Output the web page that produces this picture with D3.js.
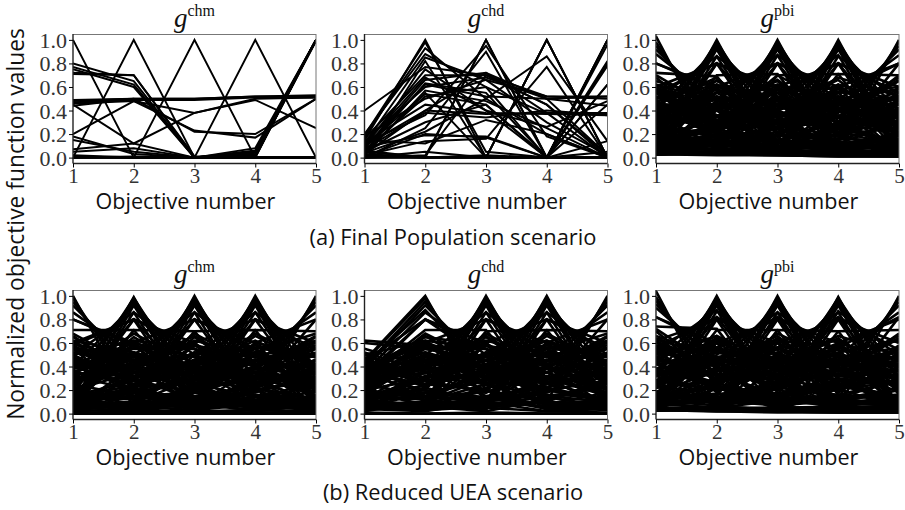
<!DOCTYPE html>
<html>
<head>
<meta charset="utf-8">
<script src="https://cdn.jsdelivr.net/npm/d3@7"></script>
<style>
  body { margin: 0; background: #fff; }
  svg { display: block; }
</style>
</head>
<body>
<svg id="chart" width="905" height="510"></svg>
<script>
// objectives on the x axis and y tick values
const objectives = [1, 2, 3, 4, 5];
const yTicks = [0, 0.2, 0.4, 0.6, 0.8, 1.0];
const panelTitles = ["chm", "chd", "pbi"];
const captions = ["(a) Final Population scenario", "(b) Reduced UEA scenario"];

// (a) final population, each row = one solution (normalized f1..f5)
const chmFinal = [
  [1, 0, 0, 0, 0], [0, 1, 0, 0, 0], [0, 0, 1, 0, 0], [0, 0, 0, 1, 0], [0, 0, 0, 0, 1],
  [0, 0, 0, 0, 0], [.01, 0, 0, 0, 0], [0, .01, 0, 0, 0],
  [.80, .65, 0, .05, 1], [.77, .62, 0, .04, 1], [.75, .60, 0, .06, 1],
  [.71, .70, 0, 0, 1], [.72, .70, .01, .01, .99],
  [.48, .50, .50, .52, .52], [.47, .49, .49, .51, .51], [.49, .50, .50, .52, .53],
  [.45, .12, .38, .49, .25], [.44, .50, .22, .20, .50], [.46, .48, .38, .50, .51],
  [.20, .48, .23, .17, .50], [.18, .03, 0, .08, 1], [.15, .05, 0, .02, 1],
  [.07, .12, 0, .03, 1], [.05, .08, 0, .01, 1], [.02, 0, 0, 0, 0], [0, 0, 0, .05, 1]
];

const chdFinal = [
  [.15, 1, 0, 0, 0], [.02, 0, 1, 0, 0], [.05, 0, 0, 1, 0], [.03, 0, 0, 0, 1],
  [0, 0, 0, 0, 0], [0, .01, 1, 0, 0], [0, 0, 0, 1, 0], [0, 0, 0, 0, 1],
  [.40, .77, .70, .45, .02], [.18, .93, .50, .20, 0], [.20, .88, .60, 0, .45],
  [.12, .85, .66, .30, .02], [.10, .75, .40, 0, .80], [.16, .70, .70, .52, .52],
  [.08, .66, .72, .38, 0], [.05, .63, .55, 0, .96], [.14, .60, .68, .50, .44],
  [.02, .57, .48, .25, 0], [.10, .54, .45, 0, .78], [.06, .52, .60, .37, .36],
  [.18, .50, .66, .52, .50], [.03, .40, .37, .38, .38], [.07, .38, .34, .40, .36],
  [.12, .36, .95, .18, 0], [0, .25, .90, 0, .62], [.04, .22, .50, .86, .14],
  [.09, .19, .18, 0, .05], [.02, .14, .16, .77, 0], [.15, .12, .32, .20, 0],
  [0, .02, .70, .45, 0], [.06, 0, .02, 0, .82], [.08, .62, .52, .50, .52],
  [.11, .68, .40, .26, .48], [.03, .55, 0, 0, .62], [.13, .45, .38, .37, .37],
  [.01, .20, .17, 0, .14], [.05, .30, .45, 0, 1], [0, .05, 0, 1, 0], [.02, .82, 0, 0, 0],
  [.19, .98, .05, 0, 0], [.10, .40, .72, .50, .02]
];

const pbiFinal = [
  [1.03, .05, .03, .04, .02], [.98, .20, .05, .04, .03], [.95, .30, .05, .04, .03],
  [.92, .40, .05, .03, .04], [.88, .47, .06, .03, .05], [.80, .60, .04, .05, .03],
  [.72, .69, .05, .04, .04], [.60, .80, .05, .04, .05], [.50, .86, .06, .05, .03],
  [.40, .92, .04, .05, .03], [.30, .95, .04, .06, .05], [.20, .98, .05, .03, .04],
  [.05, 1.0, .05, .04, .04], [.04, .98, .20, .05, .03], [.04, .94, .33, .05, .03],
  [.05, .92, .40, .04, .04], [.05, .86, .50, .04, .05], [.03, .80, .60, .05, .03],
  [.04, .70, .71, .06, .03], [.04, .60, .80, .03, .05], [.03, .48, .87, .05, .04],
  [.05, .40, .92, .04, .03], [.05, .30, .95, .04, .05], [.03, .20, .98, .05, .04],
  [.04, .05, 1.0, .05, .03], [.04, .05, .98, .20, .03], [.03, .04, .95, .31, .04],
  [.03, .04, .92, .40, .05], [.05, .05, .87, .49, .03], [.05, .03, .80, .60, .04],
  [.04, .03, .70, .71, .05], [.04, .05, .60, .80, .03], [.05, .04, .49, .87, .03],
  [.03, .04, .40, .92, .05], [.03, .05, .30, .95, .04], [.05, .03, .20, .98, .04],
  [.04, .05, .04, 1.0, .05], [.04, .03, .05, .98, .20], [.05, .04, .05, .95, .31],
  [.05, .04, .03, .92, .40], [.03, .05, .04, .86, .50], [.03, .05, .04, .80, .60],
  [.04, .03, .05, .71, .70], [.04, .03, .05, .60, .80], [.05, .04, .03, .49, .87],
  [.05, .04, .03, .40, .92], [.04, .05, .04, .30, .95], [.03, .05, .04, .20, .98],
  [.03, .04, .05, .04, 1.0],
  [.80, .58, .15, .10, .08], [.15, .80, .55, .12, .10], [.10, .18, .80, .55, .12],
  [.08, .12, .15, .80, .55], [.58, .12, .10, .15, .80], [.55, .80, .20, .08, .10],
  [.12, .55, .80, .18, .10], [.10, .12, .55, .80, .18], [.18, .10, .12, .55, .80],
  [.62, .48, .35, .40, .30], [.55, .20, .60, .35, .40], [.40, .62, .25, .50, .38],
  [.30, .45, .65, .20, .48], [.48, .30, .42, .66, .25], [.35, .55, .30, .45, .52],
  [.22, .40, .55, .60, .35], [.68, .25, .45, .30, .38], [.50, .65, .40, .22, .30],
  [.15, .35, .48, .40, .68], [.42, .18, .35, .55, .60], [.58, .42, .18, .48, .45],
  [.28, .60, .52, .15, .50], [.36, .28, .62, .50, .20], [.65, .50, .28, .18, .42],
  [.20, .25, .40, .68, .52], [.45, .68, .20, .40, .35], [.52, .35, .66, .28, .22],
  [.18, .52, .30, .35, .65], [.60, .15, .50, .45, .28], [.33, .42, .18, .62, .48],
  [.25, .62, .45, .52, .18], [.70, .40, .22, .35, .30], [.12, .28, .70, .42, .38],
  [.40, .50, .55, .30, .25], [.55, .30, .25, .60, .35], [.26, .18, .45, .30, .70],
  [.48, .58, .35, .42, .15], [.38, .22, .58, .18, .55], [.62, .35, .12, .52, .40],
  [.20, .66, .38, .25, .45], [.44, .40, .30, .50, .58], [.15, .48, .62, .35, .28],
  [.56, .26, .40, .62, .20], [.32, .50, .48, .20, .60], [.45, .45, .45, .45, .45],
  [.52, .40, .58, .30, .36], [.34, .58, .36, .52, .30], [.46, .30, .52, .40, .56],
  [.28, .50, .40, .58, .42], [.60, .36, .28, .44, .50], [.40, .24, .46, .56, .48],
  [.56, .44, .50, .26, .34], [.24, .56, .58, .40, .30], [.36, .46, .24, .38, .66],
  [.50, .62, .30, .46, .26], [.30, .34, .50, .30, .52], [.44, .28, .36, .46, .38],
  [.20, .44, .30, .50, .34], [.58, .32, .44, .24, .46], [.38, .52, .38, .34, .22],
  [.14, .24, .36, .26, .42], [.42, .36, .26, .40, .30], [.26, .40, .34, .22, .36],
  [.48, .20, .30, .36, .24], [.32, .30, .42, .48, .18],
  [.25, .10, .20, .15, .30], [.18, .22, .08, .25, .12], [.10, .15, .25, .10, .20],
  [.30, .12, .18, .28, .08], [.08, .28, .12, .20, .25], [.22, .08, .30, .12, .18],
  [.12, .20, .15, .30, .10], [.35, .25, .10, .08, .22], [.06, .12, .22, .18, .35],
  [.28, .35, .15, .22, .10], [.16, .06, .12, .35, .28], [.20, .30, .32, .10, .15],
  [.10, .25, .05, .12, .30], [.38, .08, .25, .05, .15],
  [.10, .06, .14, .08, .12], [.14, .12, .06, .10, .08], [.06, .10, .08, .14, .06],
  [.18, .14, .10, .06, .10], [.08, .04, .12, .16, .14], [.12, .18, .14, .04, .06],
  [.05, .08, .05, .06, .10], [.20, .05, .08, .12, .04], [.07, .16, .04, .08, .16],
  [.03, .02, .02, .01, .01], [.04, .03, .02, .02, .01], [.03, .03, .02, .01, .01]
];

// (b) reduced UEA
const chmReduced = [
  [1.0, .05, .10, .08, .12], [.98, .20, .06, .10, .04], [.95, .30, .12, .05, .08],
  [.92, .40, .08, .03, .10], [.86, .50, .08, .10, .05], [.80, .60, .05, .08, .02],
  [.71, .71, .10, .06, .09], [.60, .80, .04, .10, .06], [.50, .86, .07, .12, .05],
  [.40, .92, .10, .02, .08], [.30, .95, .10, .05, .10], [.20, .98, .03, .08, .05],
  [.06, .99, .08, .10, .04], [.08, .98, .20, .04, .10], [.10, .95, .30, .06, .08],
  [.03, .92, .40, .08, .05], [.08, .86, .50, .10, .06], [.10, .80, .60, .02, .08],
  [.05, .71, .70, .08, .10], [.06, .60, .80, .10, .03], [.12, .50, .86, .05, .07],
  [.04, .40, .92, .08, .10], [.07, .30, .95, .10, .05], [.10, .20, .98, .04, .08],
  [.10, .06, 1.0, .07, .09], [.06, .08, .98, .20, .03], [.05, .10, .95, .30, .08],
  [.10, .04, .92, .40, .06], [.09, .07, .86, .50, .05], [.03, .10, .80, .60, .08],
  [.06, .10, .70, .71, .08], [.08, .03, .60, .80, .10], [.08, .05, .50, .86, .10],
  [.05, .08, .40, .92, .04], [.10, .09, .30, .95, .06], [.04, .06, .20, .98, .10],
  [.07, .08, .06, 1.0, .10], [.10, .04, .08, .98, .20], [.05, .10, .08, .95, .30],
  [.08, .06, .03, .92, .40], [.10, .06, .09, .86, .50], [.04, .10, .06, .80, .60],
  [.08, .09, .05, .71, .70], [.10, .04, .08, .60, .80], [.06, .07, .10, .50, .86],
  [.03, .08, .06, .40, .92], [.09, .05, .07, .30, .95], [.06, .10, .04, .20, .98],
  [.10, .08, .06, .08, 1.0],
  [.80, .58, .20, .15, .12], [.18, .80, .55, .14, .10], [.12, .20, .80, .55, .15],
  [.10, .15, .18, .80, .55], [.55, .15, .12, .20, .80], [.58, .80, .22, .10, .14],
  [.60, .45, .30, .38, .42], [.42, .60, .48, .25, .35], [.30, .38, .62, .50, .28],
  [.50, .25, .40, .62, .38], [.35, .52, .22, .45, .60], [.65, .35, .50, .20, .30],
  [.22, .65, .35, .55, .25], [.45, .20, .65, .30, .50], [.28, .48, .30, .66, .40],
  [.55, .30, .45, .35, .65], [.40, .55, .55, .40, .22], [.18, .42, .50, .58, .48],
  [.68, .40, .20, .45, .35], [.33, .68, .42, .18, .45], [.48, .28, .68, .40, .20],
  [.25, .50, .35, .68, .42], [.58, .22, .52, .42, .62], [.38, .60, .25, .50, .55],
  [.52, .45, .60, .25, .38], [.20, .35, .45, .52, .68], [.62, .52, .38, .30, .18],
  [.44, .38, .20, .60, .50], [.15, .58, .40, .35, .55], [.36, .25, .58, .48, .30],
  [.56, .48, .32, .55, .25], [.26, .62, .55, .22, .40], [.48, .15, .35, .45, .58],
  [.32, .42, .66, .35, .45], [.66, .30, .42, .52, .20], [.40, .50, .18, .40, .62],
  [.52, .40, .58, .30, .36], [.34, .58, .36, .52, .30], [.46, .30, .52, .40, .56],
  [.28, .50, .40, .58, .42], [.60, .36, .28, .44, .50], [.40, .24, .46, .56, .48],
  [.56, .44, .50, .26, .34], [.24, .56, .58, .40, .30], [.36, .46, .24, .38, .66],
  [.50, .62, .30, .46, .26], [.30, .34, .50, .30, .52], [.44, .28, .36, .46, .38],
  [.20, .44, .30, .50, .34], [.58, .32, .44, .24, .46], [.38, .52, .38, .34, .22],
  [.25, .15, .30, .20, .28], [.15, .28, .18, .32, .15], [.32, .20, .12, .25, .35],
  [.10, .32, .25, .15, .22], [.20, .12, .35, .28, .10], [.35, .25, .20, .10, .30],
  [.08, .18, .28, .35, .18], [.28, .35, .15, .22, .12], [.12, .22, .10, .18, .32],
  [.18, .08, .22, .30, .25], [.02, .25, .05, .28, .04], [.22, .03, .26, .04, .30],
  [.15, .05, .18, .06, .20], [.05, .20, .04, .22, .06], [.14, .24, .36, .26, .42],
  [.42, .36, .26, .40, .30], [.26, .40, .34, .22, .36], [.48, .20, .30, .36, .24],
  [.10, .06, .14, .08, .12], [.14, .12, .06, .10, .08], [.06, .10, .08, .14, .06],
  [.18, .14, .10, .06, .10], [.08, .04, .12, .16, .14], [.12, .18, .14, .04, .06],
  [0, 0, 0, 0, 0], [.03, .02, .02, .03, .02], [.01, .01, .01, .01, .01], [.02, .04, .01, .03, .02]
];

const chdReduced = [
  [.45, 1.0, .08, .10, .05], [.44, .98, .20, .04, .08], [.40, .95, .30, .08, .10],
  [.38, .92, .40, .03, .06], [.35, .86, .50, .05, .08], [.33, .80, .60, .08, .04],
  [.30, .71, .71, .10, .06], [.28, .60, .80, .04, .09], [.25, .50, .86, .08, .10],
  [.22, .40, .92, .06, .03], [.20, .30, .95, .06, .05], [.15, .20, .98, .10, .06],
  [.10, .08, 1.0, .10, .08], [.06, .04, .98, .20, .10], [.08, .10, .95, .30, .05],
  [.04, .08, .92, .40, .06], [.12, .06, .86, .50, .10], [.07, .03, .80, .60, .08],
  [.05, .09, .70, .71, .08], [.10, .04, .60, .80, .05], [.10, .05, .50, .86, .06],
  [.03, .10, .40, .92, .08], [.06, .10, .30, .95, .09], [.08, .06, .20, .98, .04],
  [.09, .07, .08, 1.0, .05], [.05, .03, .06, .98, .20], [.05, .09, .10, .95, .30],
  [.10, .08, .04, .92, .40], [.10, .06, .05, .86, .50], [.06, .10, .03, .80, .60],
  [.07, .10, .08, .71, .70], [.04, .05, .10, .60, .80], [.04, .08, .06, .50, .86],
  [.09, .04, .08, .40, .92], [.08, .05, .09, .30, .95], [.03, .10, .05, .20, .98],
  [.06, .07, .05, .10, 1.0],
  [.62, .58, .30, .40, .20], [.60, .55, .45, .25, .35], [.42, .88, .35, .20, .12],
  [.44, .80, .45, .12, .25], [.38, .65, .58, .30, .15], [.30, .80, .55, .15, .10],
  [.12, .20, .80, .55, .15], [.10, .15, .18, .80, .55], [.25, .15, .12, .20, .80],
  [.40, .60, .45, .38, .42], [.30, .45, .62, .50, .28], [.25, .38, .40, .62, .45],
  [.35, .52, .25, .45, .60], [.18, .66, .35, .55, .25], [.45, .25, .65, .30, .50],
  [.22, .48, .30, .66, .40], [.50, .30, .45, .35, .65], [.32, .55, .55, .40, .22],
  [.12, .42, .50, .58, .48], [.28, .68, .42, .18, .45], [.40, .28, .68, .40, .20],
  [.15, .50, .35, .68, .42], [.48, .22, .52, .42, .62], [.36, .60, .25, .50, .55],
  [.20, .45, .60, .25, .38], [.10, .35, .45, .52, .68], [.42, .52, .38, .30, .18],
  [.30, .38, .20, .60, .50], [.26, .58, .40, .35, .55], [.34, .25, .58, .48, .30],
  [.16, .48, .32, .55, .25], [.38, .62, .55, .22, .40], [.44, .15, .35, .45, .58],
  [.24, .42, .66, .35, .45], [.08, .30, .42, .52, .20], [.32, .50, .18, .40, .62],
  [.20, .58, .48, .62, .33], [.55, .40, .50, .30, .45], [.50, .62, .30, .55, .35],
  [.36, .40, .58, .30, .36], [.28, .58, .36, .52, .30], [.46, .30, .52, .40, .56],
  [.18, .50, .40, .58, .42], [.52, .36, .28, .44, .50], [.34, .24, .46, .56, .48],
  [.40, .44, .50, .26, .34], [.14, .56, .58, .40, .30], [.26, .46, .24, .38, .66],
  [.30, .34, .50, .30, .52], [.44, .28, .36, .46, .38], [.20, .44, .30, .50, .34],
  [.25, .15, .30, .20, .28], [.15, .28, .18, .32, .15], [.32, .20, .12, .25, .35],
  [.10, .32, .25, .15, .22], [.20, .12, .35, .28, .10], [.35, .25, .20, .10, .30],
  [.05, .18, .28, .35, .18], [.28, .35, .15, .22, .12], [.12, .22, .10, .18, .32],
  [.18, .08, .22, .30, .25], [.22, .06, .02, .12, .28], [.40, .10, .25, .08, .18],
  [.14, .24, .36, .26, .42], [.42, .36, .26, .40, .30], [.26, .40, .34, .22, .36],
  [.10, .06, .14, .08, .12], [.14, .12, .06, .10, .08], [.06, .10, .08, .14, .06],
  [.18, .14, .10, .06, .10], [.08, .04, .12, .16, .14], [.12, .18, .14, .04, .06],
  [.02, .10, .05, .02, .04], [.04, .02, .10, .02, .01], [0, 0, 0, 0, 0], [.01, 0, .01, 0, 0]
];

const pbiReduced = [
  [1.04, .06, .04, .03, .02], [.99, .22, .04, .05, .03], [.96, .32, .05, .04, .03],
  [.93, .41, .03, .04, .05], [.90, .45, .04, .05, .04], [.82, .60, .05, .03, .04],
  [.74, .72, .06, .03, .05], [.62, .80, .04, .05, .03], [.52, .88, .05, .06, .03],
  [.42, .92, .03, .04, .05], [.32, .95, .04, .05, .04], [.21, .98, .05, .03, .04],
  [.06, 1.0, .05, .04, .03], [.05, .98, .21, .03, .04], [.05, .95, .32, .04, .04],
  [.04, .92, .41, .05, .03], [.04, .87, .49, .05, .03], [.03, .80, .60, .04, .05],
  [.05, .71, .71, .04, .05], [.04, .60, .80, .05, .03], [.04, .50, .86, .05, .03],
  [.05, .40, .92, .03, .04], [.03, .31, .95, .04, .04], [.04, .21, .98, .05, .03],
  [.05, .04, 1.0, .05, .03], [.04, .03, .98, .21, .05], [.04, .05, .95, .30, .04],
  [.05, .04, .92, .40, .03], [.03, .04, .86, .50, .05], [.04, .05, .80, .60, .03],
  [.05, .04, .71, .70, .03], [.03, .05, .60, .80, .04], [.04, .05, .50, .86, .04],
  [.05, .03, .40, .92, .04], [.03, .04, .31, .95, .05], [.04, .05, .21, .98, .03],
  [.05, .03, .04, .99, .04], [.03, .05, .04, .98, .21], [.04, .05, .04, .95, .31],
  [.05, .04, .03, .92, .40], [.03, .04, .05, .87, .49], [.04, .03, .05, .80, .60],
  [.05, .03, .04, .70, .71], [.03, .04, .05, .60, .80], [.04, .05, .03, .50, .86],
  [.05, .03, .04, .40, .92], [.03, .04, .05, .31, .95], [.04, .05, .03, .21, .98],
  [.04, .03, .04, .05, 1.0],
  [.82, .56, .14, .12, .08], [.16, .82, .54, .10, .12], [.12, .15, .82, .54, .10],
  [.10, .12, .16, .82, .54], [.56, .10, .12, .14, .82], [.56, .82, .18, .10, .08],
  [.10, .56, .82, .16, .12], [.12, .10, .56, .82, .16], [.16, .12, .10, .56, .82],
  [.64, .46, .38, .36, .32], [.52, .22, .62, .38, .36], [.38, .64, .28, .48, .40],
  [.32, .42, .66, .24, .46], [.46, .32, .40, .64, .28], [.36, .56, .32, .42, .54],
  [.24, .38, .56, .62, .32], [.70, .28, .42, .32, .36], [.48, .66, .42, .24, .28],
  [.18, .36, .46, .42, .66], [.44, .20, .36, .52, .62], [.60, .40, .20, .46, .48],
  [.26, .62, .50, .18, .52], [.38, .26, .64, .48, .22], [.66, .48, .30, .20, .40],
  [.22, .28, .42, .66, .50], [.46, .66, .22, .38, .36], [.54, .36, .64, .30, .24],
  [.16, .54, .28, .38, .64], [.62, .18, .48, .44, .30], [.34, .44, .20, .60, .46],
  [.28, .60, .46, .50, .20], [.72, .38, .24, .34, .32], [.14, .30, .68, .44, .36],
  [.42, .48, .56, .32, .26], [.56, .32, .26, .58, .36], [.28, .20, .46, .32, .68],
  [.50, .56, .36, .40, .18], [.36, .24, .56, .20, .56], [.64, .34, .14, .50, .42],
  [.22, .64, .36, .28, .46], [.46, .42, .32, .48, .56], [.18, .46, .60, .36, .30],
  [.58, .28, .38, .60, .22], [.34, .52, .46, .22, .58], [.44, .46, .44, .46, .44],
  [.54, .42, .56, .32, .38], [.32, .56, .38, .50, .28], [.48, .32, .50, .42, .54],
  [.26, .52, .42, .56, .40], [.62, .34, .30, .42, .52], [.42, .26, .44, .54, .46],
  [.58, .42, .52, .28, .32], [.22, .54, .56, .42, .32], [.38, .44, .26, .36, .64],
  [.52, .60, .32, .44, .28], [.28, .36, .48, .32, .50], [.46, .30, .34, .44, .40],
  [.26, .12, .22, .16, .28], [.16, .24, .10, .26, .14], [.12, .16, .26, .12, .22],
  [.32, .14, .16, .26, .10], [.10, .26, .14, .22, .26], [.24, .10, .28, .14, .16],
  [.14, .22, .16, .28, .12], [.36, .26, .12, .10, .20], [.08, .14, .24, .20, .34],
  [.28, .34, .16, .24, .12], [.18, .08, .14, .34, .26], [.22, .28, .30, .12, .16],
  [.12, .24, .07, .14, .28], [.36, .10, .24, .07, .16], [.08, .05, .18, .10, .06],
  [.11, .07, .13, .09, .11], [.15, .11, .07, .11, .07], [.07, .11, .09, .13, .07],
  [.19, .13, .11, .07, .09], [.09, .05, .11, .15, .13], [.13, .17, .13, .05, .07],
  [.03, .02, .02, .01, .01], [.04, .02, .02, .01, .01], [.03, .02, .01, .01, .01]
];

const panels = [
  [chmFinal, chdFinal, pbiFinal],
  [chmReduced, chdReduced, pbiReduced]
];

// layout
const panelLeft = [73, 364.5, 656];
const panelTop = [34, 290];
const pw = 243, ph = 129.5;
const serif = "'Liberation Serif', 'DejaVu Serif', serif";
const sans = "'Open Sans', 'DejaVu Sans', sans-serif";

const svg = d3.select("#chart");

// scale a text's font size so that it spans the wanted width
function fitText(sel, width) {
  const len = sel.node().getComputedTextLength();
  if (len > 0) sel.attr("font-size", +sel.attr("font-size") * width / len);
}

const x = d3.scaleLinear().domain([1, 5]).range([0, pw]);
const y = d3.scaleLinear().domain([-0.05, 1.05]).range([ph, 0]);
const line = d3.line().x((d, i) => x(objectives[i])).y(d => y(d));

svg.append("clipPath").attr("id", "clip")
  .append("rect").attr("width", pw).attr("height", ph);

let captionSize = 21;

panels.forEach((row, r) => {
  row.forEach((data, c) => {
    const g = svg.append("g")
      .attr("transform", "translate(" + panelLeft[c] + "," + panelTop[r] + ")");

    const dense = data.length > 60;
    g.append("g").attr("clip-path", "url(#clip)")
      .selectAll("path")
      .data(data)
      .enter().append("path")
      .attr("d", line)
      .attr("fill", "none")
      .attr("stroke", "#000")
      .attr("stroke-width", dense ? 2.6 : 2)
      .attr("stroke-linejoin", "miter");

    // frame (top/right light, left/bottom dark)
    g.append("line").attr("x1", 0).attr("x2", pw).attr("y1", 0.5).attr("y2", 0.5)
      .attr("stroke", "#777").attr("stroke-width", 1);
    g.append("line").attr("x1", pw).attr("x2", pw).attr("y1", 0).attr("y2", ph)
      .attr("stroke", "#777").attr("stroke-width", 1);
    g.append("line").attr("x1", 0).attr("x2", 0).attr("y1", 0).attr("y2", ph)
      .attr("stroke", "#222").attr("stroke-width", 1.4);
    g.append("line").attr("x1", 0).attr("x2", pw).attr("y1", ph).attr("y2", ph)
      .attr("stroke", "#222").attr("stroke-width", 1.6);

    // y axis
    const ya = g.append("g")
      .call(d3.axisLeft(y).tickValues(yTicks).tickFormat(d3.format(".1f")).tickSize(4).tickPadding(2));
    ya.select(".domain").remove();
    ya.selectAll("text")
      .style("font-family", serif).style("font-size", "22px")
      .attr("fill", "#333").attr("dy", "0.34em");

    // x axis
    const xa = g.append("g").attr("transform", "translate(0," + ph + ")")
      .call(d3.axisBottom(x).tickValues(objectives).tickFormat(d3.format("d")).tickSize(4).tickPadding(2));
    xa.select(".domain").remove();
    xa.selectAll("text")
      .style("font-family", serif).style("font-size", "21px")
      .attr("fill", "#333").attr("dy", null).attr("y", 19);

    const xl = g.append("text")
      .attr("x", pw / 2 - 9).attr("y", ph + 45.5)
      .attr("text-anchor", "middle")
      .attr("font-family", sans).attr("font-size", 21).attr("fill", "#111")
      .text("Objective number");
    fitText(xl, 180);

    // title g^{name}
    const t = g.append("text")
      .attr("x", pw / 2).attr("y", -7)
      .attr("text-anchor", "middle")
      .attr("font-family", serif).attr("fill", "#111");
    t.append("tspan").attr("font-style", "italic").attr("font-size", 27).text("g");
    t.append("tspan").attr("font-size", 16).attr("dy", -11).text(panelTitles[c]);
  });

  // both captions share the size fitted on the first one
  const cap = svg.append("text")
    .attr("x", 453).attr("y", r === 0 ? 245 : 500)
    .attr("text-anchor", "middle")
    .attr("font-family", sans).attr("font-size", captionSize).attr("fill", "#111")
    .text(captions[r]);
  if (r === 0) {
    fitText(cap, 287);
    captionSize = +cap.attr("font-size");
  }
});

const yl = svg.append("text")
  .attr("transform", "translate(24,224) rotate(-90)")
  .attr("text-anchor", "middle")
  .attr("font-family", sans).attr("font-size", 21).attr("fill", "#111")
  .text("Normalized objective function values");
fitText(yl, 392);
</script>
</body>
</html>
